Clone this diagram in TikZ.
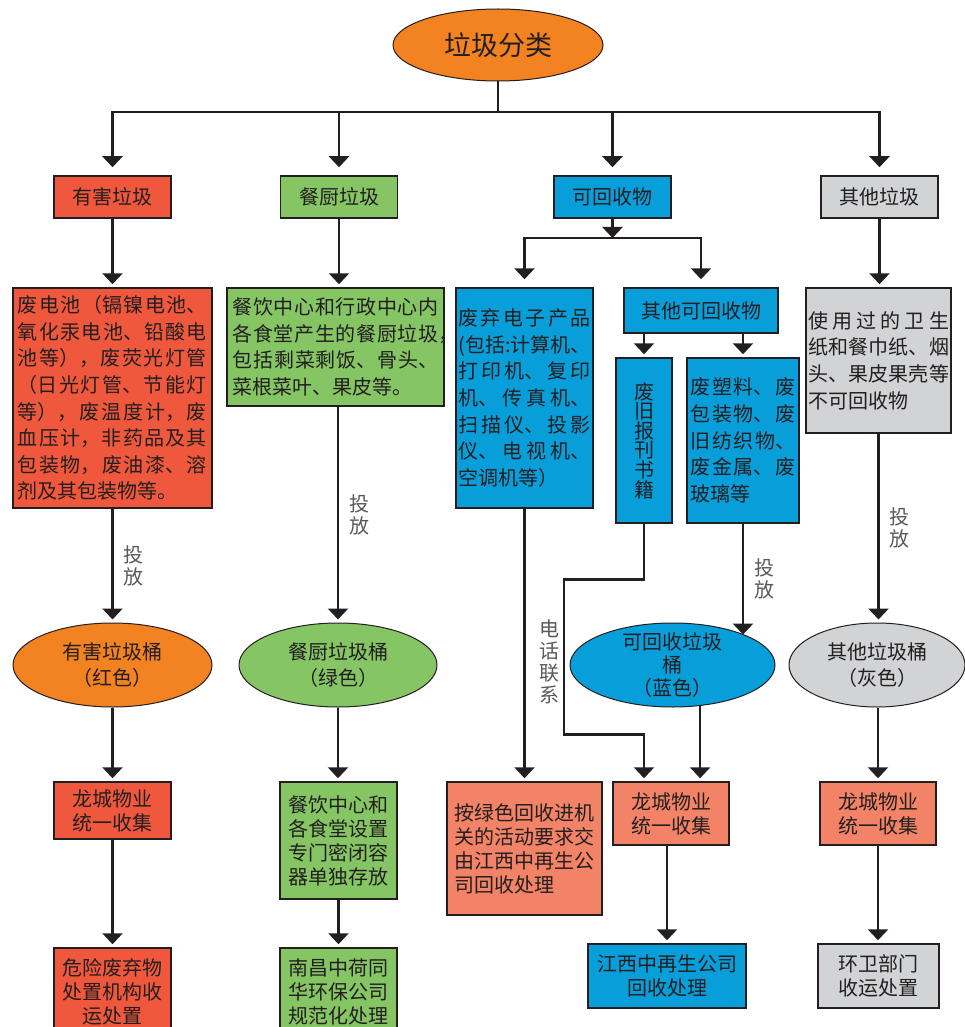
\documentclass[tikz,border=0pt]{standalone}
\usepackage{fontspec}
\setmainfont{Noto Sans CJK SC}
\usepackage{xcolor}
\usepackage{tikz}
\usetikzlibrary{shapes.geometric, arrows.meta, positioning}
\XeTeXlinebreaklocale "zh"
\XeTeXlinebreakskip=0pt plus 1pt
\definecolor{orangecolor}{RGB}{243,130,32}
\definecolor{hazcolor}{RGB}{239,88,61}
\definecolor{foodcolor}{RGB}{133,197,100}
\definecolor{recycolor}{RGB}{8,158,218}
\definecolor{restcolor}{RGB}{209,211,212}
\definecolor{salmoncolor}{RGB}{242,131,102}
\definecolor{linecolor}{RGB}{35,31,32}
\definecolor{textcolor}{RGB}{35,31,32}
\definecolor{labelcolor}{RGB}{88,89,91}

\begin{document}
\begin{tikzpicture}[
    x=0.5pt, y=-0.5pt,
    box/.style={draw=linecolor, line width=0.75pt, inner sep=0pt, text=textcolor, align=center, font=\fontsize{10}{12}\selectfont},
    kind/.style={box, minimum width=58.5pt, minimum height=21pt},
    desc/.style={box, align=justify, font=\fontsize{10}{13.3}\selectfont},
    bin/.style={ellipse, draw=linecolor, line width=0.5pt, inner sep=0pt, text=textcolor, align=center, minimum height=42pt, font=\fontsize{10}{13}\selectfont},
    arrow/.style={-{Triangle[length=5.5pt, width=10pt]}, line width=1.3pt, draw=linecolor, shorten >=1.5pt},
    link/.style={line width=1.3pt, draw=linecolor},
    droplabel/.style={inner sep=0pt, text=labelcolor, align=center, font=\fontsize{10}{11}\selectfont}
]
    \useasboundingbox (0,0) rectangle (964,1027);

    % Root
    \node[bin, fill=orangecolor, minimum width=105pt, minimum height=36pt, font=\fontsize{13.5}{16}\selectfont] (root) at (498,45) {垃圾分类};

    % Categories
    \node[kind, fill=hazcolor] (haz) at (112.5,197) {有害垃圾};
    \node[kind, fill=foodcolor] (food) at (339,197) {餐厨垃圾};
    \node[kind, fill=recycolor] (recy) at (612.5,197) {可回收物};
    \node[kind, fill=restcolor] (rest) at (879.5,197) {其他垃圾};

    % Descriptions
    \node[desc, fill=hazcolor, text width=94.5pt, minimum width=99.5pt, minimum height=110pt] (hazdesc) at (112.5,398) {废电池（镉镍电池、\linebreak 氧化汞电池、铅酸电\linebreak 池等），废荧光灯管\linebreak （日光灯管、节能灯\linebreak 等），废温度计，废\linebreak 血压计，非药品及其\linebreak 包装物，废油漆、溶\linebreak 剂及其包装物等。};
    \node[desc, fill=foodcolor, text width=103pt, minimum width=108.5pt, minimum height=59pt] (fooddesc) at (335.5,347) {餐饮中心和行政中心内\linebreak 各食堂产生的餐厨垃圾\rlap{，}\linebreak 包括剩菜剩饭、骨头、\linebreak 菜根菜叶、果皮等。};
    \node[desc, fill=recycolor, text width=66pt, minimum width=68.5pt, minimum height=110pt] (ewaste) at (524.5,398) {废弃电子产品\linebreak \mbox{(包括:计算机、}\linebreak 打印机、复印\linebreak 机、传真机、\linebreak 扫描仪、投影\linebreak 仪、电视机、\linebreak 空调机等）};
    \node[box, fill=recycolor, minimum width=77pt, minimum height=22.5pt] (otherrec) at (701,310.5) {其他可回收物};
    \node[box, fill=recycolor, minimum width=28pt, minimum height=82.5pt, font=\fontsize{10}{9.8}\selectfont] (paper) at (644,440.5) {废\\旧\\报\\刊\\书\\籍};
    \node[desc, fill=recycolor, text width=52.5pt, minimum width=56pt, minimum height=82.5pt] (plastic) at (743,440.5) {废塑料、废\linebreak 包装物、废\linebreak 旧纺织物、\linebreak 废金属、废\linebreak 玻璃等};
    \node[desc, fill=restcolor, text width=70.5pt, minimum width=72.5pt, minimum height=72.5pt] (restdesc) at (878.5,360.5) {使用过的卫生\linebreak 纸和餐巾纸、烟\linebreak 头、果皮果壳等\linebreak 不可回收物};

    % Bins
    \node[bin, fill=orangecolor, minimum width=99.5pt] (hazbin) at (112.5,665) {有害垃圾桶\\（红色）};
    \node[bin, fill=foodcolor, minimum width=99pt] (foodbin) at (338,665) {餐厨垃圾桶\\（绿色）};
    \node[bin, fill=recycolor, minimum width=102.5pt, inner ysep=-4pt, font=\fontsize{10}{11.5}\selectfont] (recybin) at (672.5,665) {可回收垃圾\\桶\\（蓝色）};
    \node[bin, fill=restcolor, minimum width=88pt] (restbin) at (877,665) {其他垃圾桶\\（灰色）};

    % Collection
    \node[box, fill=hazcolor, minimum width=58.5pt, minimum height=28.5pt] (hazcol) at (112.5,810.5) {龙城物业\\统一收集};
    \node[box, fill=foodcolor, minimum width=58.5pt, minimum height=58.5pt] (foodstore) at (338.5,840.5) {餐饮中心和\\各食堂设置\\专门密闭容\\器单独存放};
    \node[box, fill=salmoncolor, align=left, text width=70pt, minimum width=77.5pt, minimum height=66.5pt] (ewastefinal) at (524.5,848.5) {按绿色回收进机\\关的活动要求交\\由江西中再生公\\司回收处理};
    \node[box, fill=salmoncolor, minimum width=58pt, minimum height=31.5pt] (recycol) at (671,813.5) {龙城物业\\统一收集};
    \node[box, fill=salmoncolor, minimum width=58pt, minimum height=31.5pt] (restcol) at (878,813.5) {龙城物业\\统一收集};

    % Disposal
    \node[box, fill=hazcolor, minimum width=58.5pt, minimum height=44pt] (hazfinal) at (112.5,992) {危险废弃物\\处置机构收\\运处置};
    \node[box, fill=foodcolor, minimum width=58.5pt, minimum height=44pt] (foodfinal) at (338.5,992) {南昌中荷同\\华环保公司\\规范化处理};
    \node[box, fill=recycolor, minimum width=79pt, minimum height=32pt] (recyfinal) at (667,976) {江西中再生公司\\回收处理};
    \node[box, fill=restcolor, minimum width=60.5pt, minimum height=32pt] (restfinal) at (878.5,976) {环卫部门\\收运处置};

    % Connections
    \coordinate (topbar) at (498,112);
    \draw[link] (root) -- (topbar);
    \draw[arrow, shorten >=4pt] (topbar) -| (haz);
    \draw[arrow, shorten >=4pt] (topbar) -| (food);
    \draw[arrow, shorten >=4pt] (topbar) -| (recy);
    \draw[arrow, shorten >=4pt] (topbar) -| (rest);

    \draw[arrow] (haz) -- (hazdesc);
    \draw[arrow] (food.south) -- (food.south |- fooddesc.north);
    \draw[arrow] (rest.south) -- (rest.south |- restdesc.north);

    \coordinate (recysplit) at (612.5,238);
    \draw[arrow, shorten >=0pt] (recy) -- (recysplit);
    \draw[arrow, shorten >=4pt] (recysplit) -| (ewaste);
    \draw[arrow, shorten >=4pt] (recysplit) -| (otherrec);
    \draw[arrow] (paper.north |- otherrec.south) -- (paper);
    \draw[arrow] (plastic.north |- otherrec.south) -- (plastic);

    \draw[arrow] (hazdesc) -- (hazbin) node[droplabel, midway, right=5pt] {投\\放};
    \draw[arrow] (foodbin.north |- fooddesc.south) -- (foodbin) node[droplabel, midway, right=5pt] {投\\放};
    \draw[arrow, shorten >=0pt] (plastic.south) -- (plastic.south |- recybin.23) node[droplabel, midway, right=5pt] {投\\放};
    \draw[arrow] (restdesc.south) -- (restdesc.south |- restbin.north) node[droplabel, midway, right=5pt] {投\\放};

    \draw[arrow] (ewaste) -- (ewastefinal) node[droplabel, pos=0.56, right=7pt] {电\\话\\联\\系};
    \draw[arrow] (paper.south) -- ++(0,56) -- ++(-80,0) -- ++(0,155) -- ++(80,0) -- (paper.south |- recycol.north);
    \draw[arrow] (recybin.-56) -- (recybin.-56 |- recycol.north);
    \draw[arrow] (recyfinal.north |- recycol.south) -- (recyfinal);

    \draw[arrow] (hazbin) -- (hazcol);
    \draw[arrow] (hazcol) -- (hazfinal);
    \draw[arrow] (foodbin.south) -- (foodbin.south |- foodstore.north);
    \draw[arrow] (foodstore) -- (foodfinal);
    \draw[arrow] (restcol.north |- restbin.south) -- (restcol);
    \draw[arrow] (restcol.south) -- (restcol.south |- restfinal.north);
\end{tikzpicture}
\end{document}
